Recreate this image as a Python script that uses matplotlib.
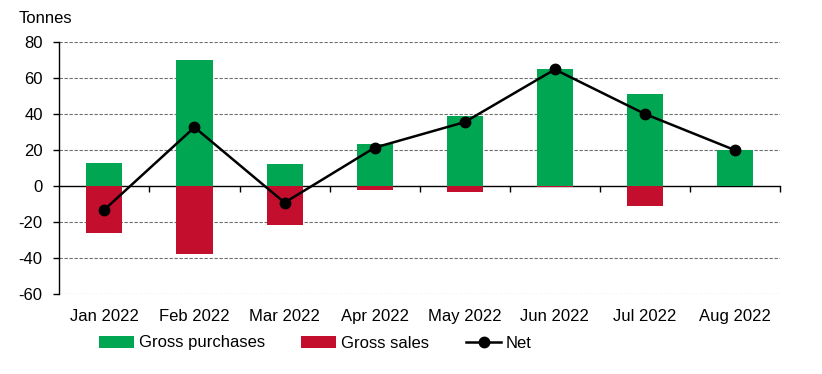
import matplotlib
matplotlib.use("Agg")
import matplotlib.pyplot as plt
import numpy as np

# values
months = ["Jan 2022", "Feb 2022", "Mar 2022", "Apr 2022",
          "May 2022", "Jun 2022", "Jul 2022", "Aug 2022"]
gross_purchases = [12.8, 70.0, 12.3, 23.0, 38.8, 65.0, 50.9, 19.8]
gross_sales = [-26.2, -37.7, -21.7, -2.2, -3.6, -0.5, -11.3, 0.0]
net = [-13.2, 32.5, -9.3, 21.2, 35.4, 64.6, 39.9, 19.8]
y_ticks = [-60, -40, -20, 0, 20, 40, 60, 80]

GREEN = "#00a651"
RED = "#c30e2e"

plt.rcParams['font.family'] = ['Liberation Sans', 'DejaVu Sans']
plt.rcParams['font.size'] = 12

fig = plt.figure(figsize=(8.22, 3.74), dpi=100)
ax = fig.add_axes([0.0722, 0.2139, 0.949 - 0.0722, 0.8885 - 0.2139])

x = np.arange(len(months))
b1 = ax.bar(x, gross_purchases, width=0.4, color=GREEN, label="Gross purchases", zorder=2)
b2 = ax.bar(x, gross_sales, width=0.4, color=RED, label="Gross sales", zorder=2)
ln, = ax.plot(x, net, color="black", lw=1.8, marker="o", ms=7.5, label="Net", zorder=3)

ax.set_xlim(-0.5, len(months) - 0.5)
ax.set_ylim(-60, 80)
ax.set_yticks(y_ticks)
ax.set_yticklabels([str(v) for v in y_ticks])

# dashed grid, but not at zero
for v in y_ticks:
    if v != 0:
        ax.axhline(v, color="#6e6e6e", lw=0.8, ls=(0, (3, 1.5)), zorder=1)

for s in ["top", "right", "bottom"]:
    ax.spines[s].set_visible(False)
ax.spines["left"].set_linewidth(1.0)
ax.tick_params(axis="y", direction="out", length=4, width=1.0, pad=8)

ax.set_xticks(x)
ax.set_xticklabels(months)
ax.tick_params(axis="x", length=0, pad=11)

# zero line with category boundary ticks
zero_frac = (0 - (-60)) / (80 - (-60))
sec = ax.secondary_xaxis(zero_frac)
sec.set_xticks(np.arange(0.5, len(months), 1.0))
sec.set_xticklabels([])
sec.tick_params(direction="out", length=4, width=1.0)
sec.spines["bottom"].set_linewidth(1.0)

fig.text(0.0223, 0.951, "Tonnes", ha="left", va="center", fontsize=12)

fig.legend(handles=[b1, b2, ln], loc="center left",
           bbox_to_anchor=(0.12, 1 - 343 / 374), ncol=3,
           frameon=False, handlelength=2.1, handletextpad=0.3,
           columnspacing=2.2, borderpad=0, borderaxespad=0)

fig.savefig("out.png", dpi=100)
